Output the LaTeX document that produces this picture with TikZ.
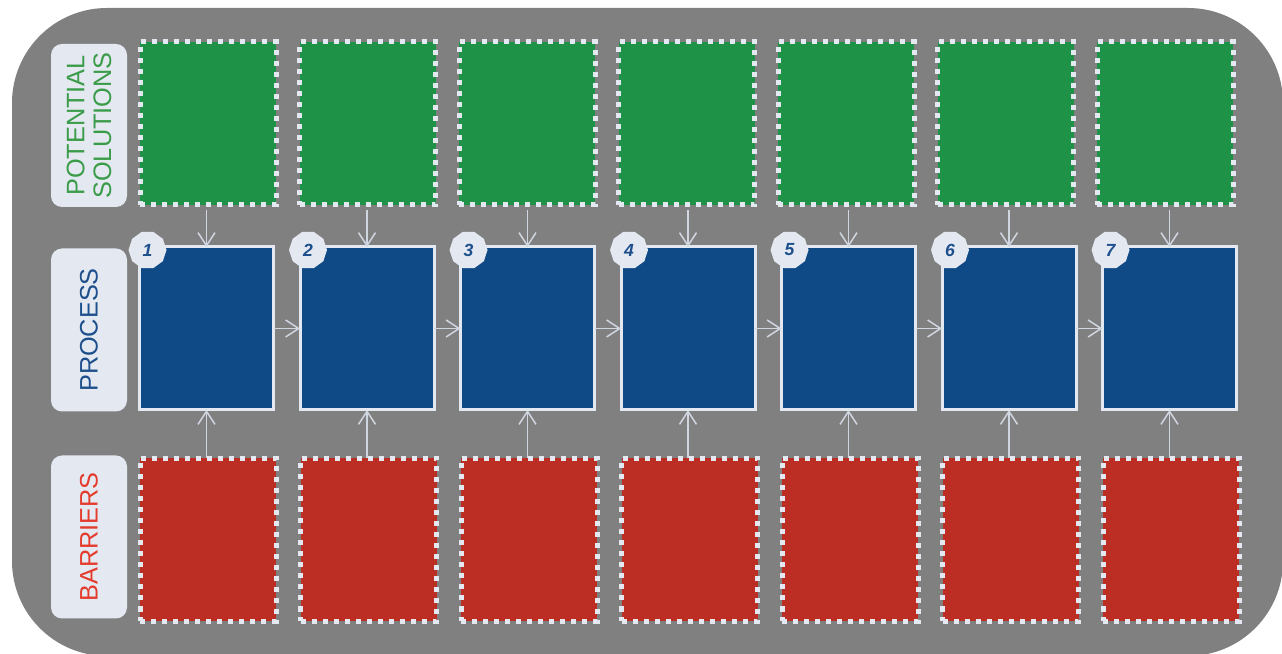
\documentclass[tikz,border=0pt]{standalone}
\usepackage{fontspec}
\setmainfont{Liberation Sans}
\usetikzlibrary{positioning, arrows.meta, shapes.geometric}
\definecolor{cFrame}{HTML}{808080}
\definecolor{cPale}{HTML}{E3E8F1}
\definecolor{cLine}{HTML}{D0D6E0}
\definecolor{cSol}{HTML}{1E9247}
\definecolor{cSolText}{HTML}{3A9B48}
\definecolor{cProc}{HTML}{0F4A86}
\definecolor{cProcText}{HTML}{1D4F8C}
\definecolor{cBar}{HTML}{BC2D24}
\definecolor{cBarText}{HTML}{E43B2D}

\begin{document}
\begin{tikzpicture}[
  lane/.style={
    fill=cPale, rounded corners=0.22cm, rotate=90,
    minimum width=3.26cm, minimum height=1.52cm, inner sep=0pt,
    align=center, font=\fontsize{14.4}{15.3}\selectfont, text=#1
  },
  dotbox/.style={
    fill=#1, draw=cPale, line width=0.1cm,
    dash pattern=on 0.1cm off 0.12cm,
    minimum width=2.72cm, minimum height=3.26cm, outer sep=0pt
  },
  procbox/.style={
    fill=cProc, draw=cPale, line width=0.06cm,
    minimum width=2.68cm, minimum height=3.26cm, outer sep=0pt
  },
  badge/.style={
    regular polygon, regular polygon sides=10, fill=cPale,
    minimum size=0.76cm, inner sep=0pt, text=cProcText,
    font=\fontsize{10}{11}\selectfont\bfseries\itshape
  },
  flow/.style={
    -{Straight Barb[length=0.26cm, width=0.34cm]},
    line width=0.03cm, color=cLine
  },
]
\useasboundingbox (0,0) rectangle (25.64,13.08);

% frame
\fill[cFrame, rounded corners=1.9cm] (0.24,-0.04) rectangle (25.66,12.92);

% row labels
\node[lane=cSolText] (ps) at (1.78,10.57) {POTENTIAL\\SOLUTIONS};
\node[lane=cProcText] (pr) at (1.78,6.48) {PROCESS};
\node[lane=cBarText] (ba) at (1.78,2.34) {BARRIERS};

% first column
\node[dotbox=cSol] (g1) at (4.16,10.61) {};
\node[procbox] (b1) at (4.13,6.51) {};
\node[dotbox=cBar] (r1) at (4.16,2.28) {};

% other columns
\foreach \a/\b in {1/2, 2/3, 3/4, 4/5, 5/6, 6/7} {
  \node[dotbox=cSol, right=0.47cm of g\a] (g\b) {};
  \node[procbox, right=0.53cm of b\a] (b\b) {};
  \node[dotbox=cBar, right=0.49cm of r\a] (r\b) {};
}

% step numbers
\foreach \i in {1,...,7} {
  \node[badge, xshift=0.16cm, yshift=-0.06cm] (n\i) at (b\i.north west) {\i};
}

% arrows into the process
\foreach \i in {1,...,7} {
  \draw[flow, shorten <=0.1cm] (b\i.north |- g\i.south) -- (b\i.north);
  \draw[flow] (b\i.south |- r\i.north) -- (b\i.south);
}
\foreach \a/\b in {1/2, 2/3, 3/4, 4/5, 5/6, 6/7} {
  \draw[flow] (b\a.east) -- (b\b.west);
}

\end{tikzpicture}
\end{document}
